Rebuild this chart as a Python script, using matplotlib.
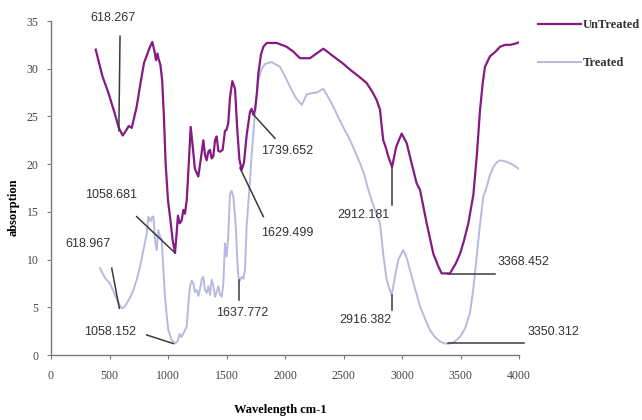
import matplotlib
matplotlib.use("Agg")
import matplotlib.pyplot as plt

# FTIR spectra: wavenumber (cm-1) vs absorption
untreated_x = [382, 440, 490, 540, 580, 613, 640, 665, 690, 732, 765, 795, 846, 866, 885, 897,
               910, 920, 935, 950, 965, 980, 1000, 1020, 1040, 1060, 1072, 1085, 1100, 1117,
               1131, 1145, 1160, 1175, 1194, 1210, 1230, 1259, 1280, 1302, 1316, 1330, 1345,
               1359, 1373, 1387, 1402, 1416, 1430, 1444, 1467, 1487, 1501, 1515, 1530, 1550,
               1573, 1590, 1610, 1630, 1650, 1672, 1701, 1715, 1729, 1744, 1760, 1772, 1795,
               1815, 1844, 1929, 2014, 2070, 2128, 2214, 2270, 2328, 2413, 2490, 2556, 2630,
               2698, 2750, 2784, 2812, 2826, 2840, 2860, 2883, 2915, 2950, 2997, 3040, 3080,
               3125, 3154, 3211, 3268, 3310, 3339, 3410, 3460, 3496, 3530, 3567, 3610, 3640,
               3667, 3690, 3709, 3752, 3800, 3838, 3880, 3923, 3960, 4009]
untreated_y = [32.0, 29.2, 27.5, 25.5, 23.8, 23.0, 23.5, 24.0, 23.8, 26.0, 28.5, 30.6, 32.3, 32.8,
               31.8, 30.9, 31.6, 31.0, 30.4, 28.8, 25.0, 20.0, 16.2, 14.2, 12.0, 10.7, 12.5,
               14.6, 13.8, 14.1, 15.2, 14.8, 16.2, 19.5, 23.9, 22.0, 19.5, 18.7, 20.5, 22.5,
               21.0, 20.4, 21.3, 21.5, 20.6, 20.8, 22.5, 22.9, 21.4, 21.3, 21.5, 23.5, 23.6,
               24.3, 27.0, 28.7, 27.9, 24.0, 20.5, 19.4, 20.2, 23.0, 25.5, 25.8, 25.2, 25.7,
               27.5, 29.5, 31.5, 32.3, 32.7, 32.7, 32.3, 31.8, 31.1, 31.1, 31.6, 32.1, 31.3,
               30.6, 29.9, 29.2, 28.5, 27.5, 26.7, 25.7, 24.0, 22.5, 21.8, 20.8, 19.7, 21.8,
               23.2, 22.2, 20.2, 18.0, 17.3, 13.8, 10.6, 9.3, 8.55, 8.55, 9.6, 10.6, 12.0, 13.8,
               16.8, 21.0, 25.7, 28.5, 30.2, 31.3, 31.8, 32.3, 32.5, 32.5, 32.6, 32.8]

treated_x = [419, 460, 504, 540, 575, 604, 625, 647, 675, 704, 735, 761, 790, 818, 832, 850, 865,
             875, 890, 903, 917, 930, 946, 960, 974, 990, 1003, 1030, 1060, 1085, 1100, 1117,
             1140, 1160, 1175, 1188, 1203, 1217, 1230, 1245, 1260, 1275, 1290, 1302, 1316,
             1330, 1345, 1359, 1373, 1387, 1402, 1416, 1430, 1445, 1459, 1473, 1487, 1501,
             1515, 1530, 1544, 1558, 1570, 1581, 1590, 1601, 1615, 1630, 1645, 1658, 1672,
             1687, 1701, 1715, 1729, 1750, 1772, 1800, 1830, 1886, 1957, 2000, 2043, 2090,
             2143, 2185, 2214, 2271, 2328, 2370, 2413, 2480, 2556, 2600, 2641, 2680, 2712,
             2760, 2812, 2840, 2869, 2890, 2912, 2940, 2969, 3011, 3040, 3068, 3110, 3154,
             3200, 3239, 3280, 3325, 3370, 3410, 3450, 3496, 3540, 3581, 3610, 3638, 3665,
             3695, 3724, 3750, 3781, 3810, 3838, 3880, 3923, 3965, 4009]
treated_y = [9.1, 8.1, 7.5, 6.5, 5.5, 4.9, 5.0, 5.4, 6.0, 6.8, 8.0, 9.25, 11.0, 12.7, 14.5, 14.0,
             14.5, 14.5, 12.0, 11.0, 13.1, 12.5, 12.1, 9.0, 6.1, 4.0, 2.6, 1.6, 1.2, 1.5, 2.2,
             1.9, 2.5, 3.0, 5.5, 7.2, 7.8, 7.5, 6.6, 6.8, 6.2, 7.0, 8.0, 8.2, 6.8, 6.5, 7.2,
             6.3, 7.9, 7.3, 6.1, 6.6, 7.2, 6.3, 6.1, 7.5, 11.7, 10.3, 12.5, 16.9, 17.2, 16.6,
             15.0, 13.1, 10.5, 8.2, 7.8, 8.2, 8.0, 8.9, 13.5, 16.0, 18.3, 21.0, 23.2, 26.2,
             28.8, 30.0, 30.5, 30.7, 30.2, 29.2, 28.1, 27.0, 26.2, 27.3, 27.4, 27.5, 27.9,
             27.0, 26.0, 24.3, 22.5, 21.3, 20.1, 18.8, 17.3, 15.5, 13.8, 10.5, 7.9, 7.0, 6.3,
             8.2, 10.0, 11.0, 10.2, 8.9, 7.0, 5.1, 3.7, 2.6, 1.9, 1.4, 1.2, 1.2, 1.4, 1.9, 2.8,
             4.4, 7.0, 10.3, 13.5, 16.6, 17.6, 18.8, 19.7, 20.2, 20.4, 20.3, 20.1, 19.8, 19.4]

# peak labels: text, text position, leader line (x0, y0, x1, y1), text alignment
peak_labels = ["618.267", "1058.681", "1739.652", "1629.499", "2912.181", "2916.382",
               "3368.452", "3350.312", "618.967", "1058.152", "1637.772"]
label_pos = [(530, 35.3), (513, 16.8), (2017, 21.4), (2017, 12.8), (2667, 14.7), (2684, 3.67),
             (3821, 9.75), (4077, 2.41), (316, 11.6), (504, 2.41), (1637, 4.4)]
leader_lines = [(590, 33.4, 580, 23.5), (732, 14.5, 1060, 10.7), (1729, 25.2, 1915, 22.7),
                (1615, 19.6, 1815, 14.5), (2915, 19.7, 2915, 15.7), (2915, 6.3, 2915, 4.7),
                (3393, 8.46, 3795, 8.46), (3396, 1.22, 4043, 1.22), (519, 9.1, 584, 4.9),
                (818, 2.1, 1045, 1.2), (1609, 7.9, 1609, 5.8)]
label_ha = ["center"] * 6 + ["left", "left"] + ["center"] * 3

fig = plt.figure(figsize=(6.42, 4.2), dpi=100)
ax = fig.add_axes([51 / 642, 65 / 420, 468 / 642, 334 / 420])

ax.plot(untreated_x, untreated_y, color="#861a84", lw=1.6, label="UnTreated", zorder=3)
ax.plot(treated_x, treated_y, color="#b9b9e0", lw=1.4, label="Treated", zorder=2)

for (x0, y0, x1, y1) in leader_lines:
    ax.plot([x0, x1], [y0, y1], color="#3a3a3a", lw=1.1, clip_on=False, zorder=4)
for txt, (tx, ty), ha in zip(peak_labels, label_pos, label_ha):
    ax.text(tx, ty, txt, ha=ha, va="center", fontsize=9, color="#333333",
            family="Liberation Sans", clip_on=False, zorder=5)

ax.set_xlim(0, 4000)
ax.set_ylim(0, 35)
ax.set_xticks(range(0, 4001, 500))
ax.set_yticks(range(0, 36, 5))
for side in ["top", "right"]:
    ax.spines[side].set_visible(False)
for side in ["left", "bottom"]:
    ax.spines[side].set_color("#7a7a7a")
    ax.spines[side].set_linewidth(1.0)
ax.tick_params(direction="out", length=3, color="#7a7a7a", labelsize=8.5, labelcolor="#444444")
for lab in ax.get_xticklabels() + ax.get_yticklabels():
    lab.set_family("Liberation Serif")
ax.tick_params(axis="x", pad=8)
ax.tick_params(axis="y", pad=6)

ax.set_xlabel("Wavelength cm-1", family="Liberation Serif", fontweight="bold", fontsize=9)
ax.xaxis.set_label_coords(0.489, -0.147)
ax.set_ylabel("absorption", family="Liberation Serif", fontweight="bold", fontsize=9)
ax.yaxis.set_label_coords(-0.066, 0.443)

fig.legend(loc="upper left", bbox_to_anchor=(538 / 642, 1 - 19 / 420), frameon=False,
           prop={"family": "Liberation Serif", "size": 9, "weight": "bold"}, handlelength=3.4,
           handletextpad=0.15, labelspacing=2.1, borderpad=0, borderaxespad=0,
           labelcolor="#333333")

fig.savefig("out.png", dpi=100)
